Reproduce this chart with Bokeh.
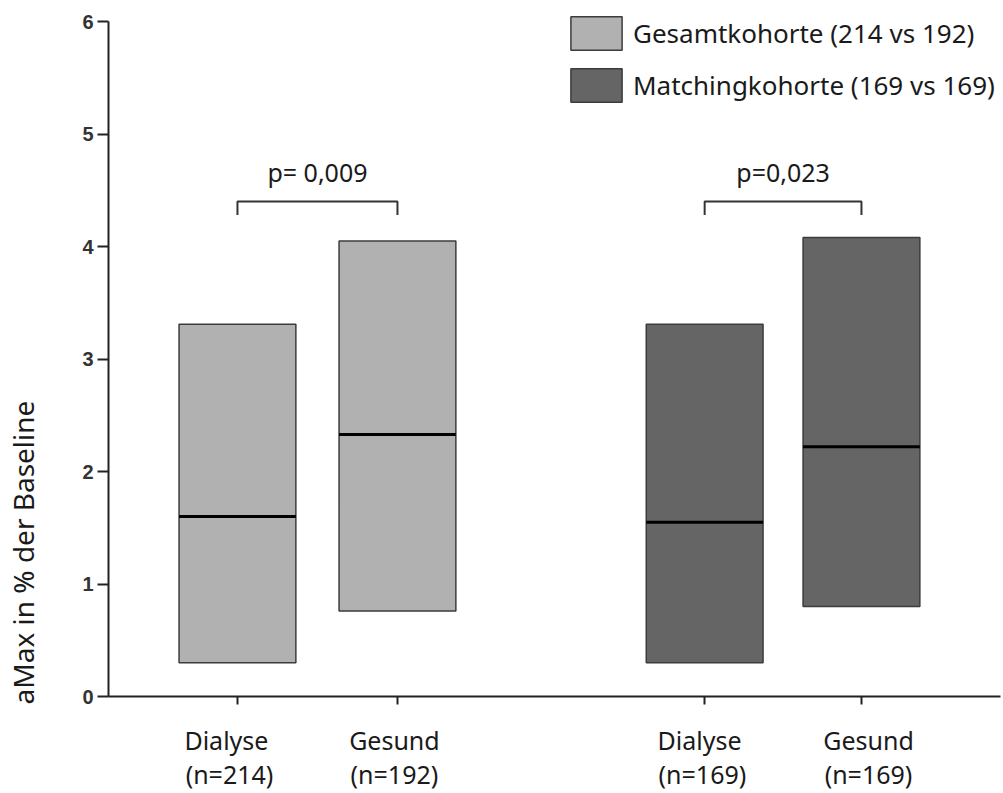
import numpy as np
from bokeh.plotting import figure
from bokeh.models import (ColumnDataSource, FixedTicker, LinearAxis, Legend,
                          LegendItem, Range1d)
from bokeh.core.properties import value
from bokeh.embed import file_html
from bokeh.resources import INLINE

# ---- data ----
groups = ["Dialyse", "Gesund", "Dialyse", "Gesund"]
n_labels = ["(n=214)", "(n=192)", "(n=169)", "(n=169)"]
cohorts = ["Gesamtkohorte (214 vs 192)", "Matchingkohorte (169 vs 169)"]
q1 = [0.30, 0.76, 0.30, 0.80]
median = [1.60, 2.33, 1.55, 2.22]
q3 = [3.31, 4.05, 3.31, 4.08]
p_values = ["p= 0,009", "p=0,023"]
y_ticks = [0, 1, 2, 3, 4, 5, 6]
y_title = "aMax in % der Baseline"

# ---- layout (positions only) ----
xpos = np.array([1.0, 2.0, 3.92, 4.9])          # tick / bar centres
lab1_pos = np.array([0.931, 1.981, 3.888, 4.944])  # centres of first label line
lab2_pos = np.array([0.950, 1.981, 3.906, 4.944])  # centres of second label line
ytitle_pos = 1.28                                  # y-centre of the axis title
bar_w = 0.73
bracket_y = 4.40
bracket_leg = 0.12
ptext_y = 4.66

light = "#b1b1b1"
dark = "#656565"

p = figure(width=1003, height=793, output_backend="svg", toolbar_location=None,
           x_range=Range1d(0.194, 5.769), y_range=Range1d(0, 6.08),
           min_border_left=108, min_border_right=3, min_border_top=12,
           min_border_bottom=96)
p.outline_line_color = None
p.xgrid.visible = False
p.ygrid.visible = False
p.background_fill_color = "white"

src1 = ColumnDataSource(dict(x=xpos[:2], top=q3[:2], bottom=q1[:2]))
src2 = ColumnDataSource(dict(x=xpos[2:], top=q3[2:], bottom=q1[2:]))
r1 = p.vbar(x="x", top="top", bottom="bottom", width=bar_w, source=src1,
            fill_color=light, line_color="#3c3c3c", line_width=1.5)
r2 = p.vbar(x="x", top="top", bottom="bottom", width=bar_w, source=src2,
            fill_color=dark, line_color="#3c3c3c", line_width=1.5)

# median lines
p.segment(x0=xpos - bar_w / 2, x1=xpos + bar_w / 2, y0=median, y1=median,
          line_color="black", line_width=3)

# significance brackets
bx = []
by = []
for g in range(2):
    a, b = xpos[2 * g], xpos[2 * g + 1]
    bx.append([a, a, b, b])
    by.append([bracket_y - bracket_leg, bracket_y, bracket_y, bracket_y - bracket_leg])
p.multi_line(xs=bx, ys=by, line_color="#333333", line_width=2)
p.text(x=[(xpos[0] + xpos[1]) / 2, (xpos[2] + xpos[3]) / 2], y=[ptext_y, ptext_y],
       text=p_values, text_align="center", text_baseline="middle",
       text_font=value("Noto Sans"), text_font_size="25px", text_color="#1a1a1a")

# x axis: line + ticks only
xa = p.xaxis[0]
xa.ticker = FixedTicker(ticks=list(xpos))
xa.major_label_overrides = {float(x): " " for x in xpos}
xa.axis_line_color = "#222222"
xa.axis_line_width = 2
xa.major_tick_line_color = "#222222"
xa.major_tick_line_width = 2
xa.major_tick_out = 8
xa.major_tick_in = 0
xa.minor_tick_line_color = None
xa.major_label_standoff = 0
xa.major_label_text_font_size = "1px"

def label_axis(pos, labels, standoff, size="25px"):
    ax = LinearAxis(ticker=FixedTicker(ticks=list(pos)),
                    major_label_overrides={float(x): t for x, t in zip(pos, labels)})
    ax.axis_line_color = None
    ax.major_tick_line_color = None
    ax.minor_tick_line_color = None
    ax.major_tick_out = 0
    ax.major_tick_in = 0
    ax.major_label_standoff = standoff
    ax.major_label_text_font = "Noto Sans"
    ax.major_label_text_font_size = size
    ax.major_label_text_color = "#1a1a1a"
    return ax

p.add_layout(label_axis(lab1_pos, groups, 14), "below")
p.add_layout(label_axis(lab2_pos, n_labels, -3), "below")

ya = p.yaxis[0]
ya.ticker = FixedTicker(ticks=y_ticks)
ya.bounds = (0, 6)
ya.axis_line_color = "#222222"
ya.axis_line_width = 2
ya.major_tick_line_color = "#222222"
ya.major_tick_line_width = 2
ya.major_tick_out = 11
ya.major_tick_in = 0
ya.minor_tick_line_color = None
ya.major_label_standoff = 4
ya.major_label_text_font = "Liberation Sans"
ya.major_label_text_font_style = "bold"
ya.major_label_text_font_size = "20px"
ya.major_label_text_color = "#333333"

# y-axis title as a label-only axis (placed off-centre like the reference)
yt = label_axis([ytitle_pos], [y_title], 38, size="28px")
yt.major_label_orientation = "vertical"
p.add_layout(yt, "left")

legend = Legend(items=[LegendItem(label=cohorts[0], renderers=[r1]),
                       LegendItem(label=cohorts[1], renderers=[r2])],
                location=(456, 590), orientation="vertical",
                glyph_width=64, glyph_height=42, spacing=10, label_standoff=5,
                padding=0, margin=0, border_line_color=None,
                background_fill_alpha=0,
                label_text_font="Noto Sans", label_text_font_size="26px",
                label_text_color="#1a1a1a")
p.add_layout(legend)

open("out.html", "w").write(file_html(p, INLINE))
